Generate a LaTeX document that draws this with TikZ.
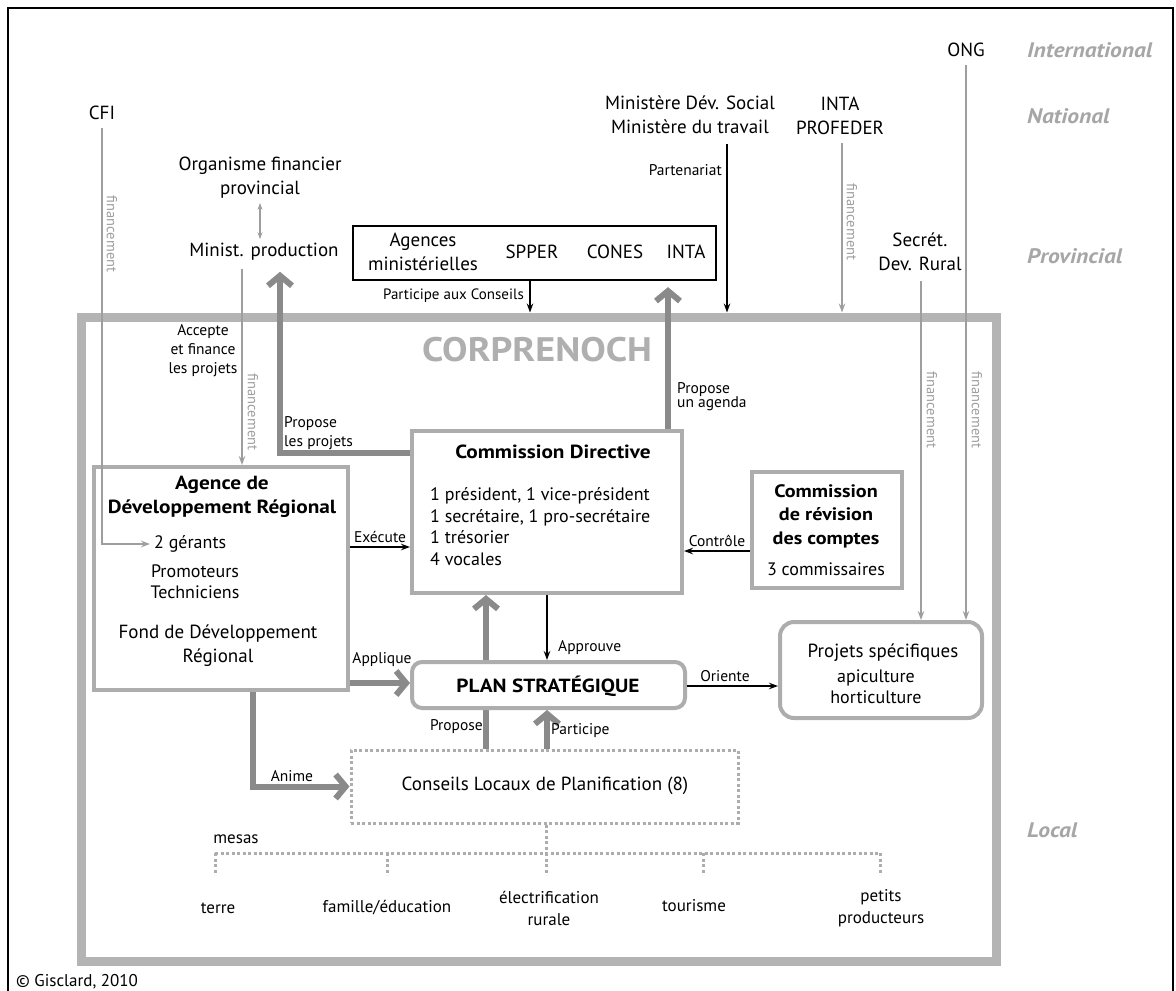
\documentclass[tikz,border=0pt]{standalone}
\usepackage{fontspec}
\setmainfont{PT Sans}[BoldFeatures={FakeStretch=1.12}, BoldItalicFeatures={FakeStretch=1.12}]
\usetikzlibrary{arrows.meta,calc}
\definecolor{frameg}{HTML}{B4B4B4}
\definecolor{boxg}{HTML}{ADADAD}
\definecolor{darkg}{HTML}{8A8A8A}
\definecolor{fing}{HTML}{9E9E9E}
\definecolor{levelg}{HTML}{A6A6A6}
\definecolor{corpg}{HTML}{AFAFAF}
\begin{document}
\begin{tikzpicture}[x=1pt,y=-1pt,
  every node/.style={inner sep=0pt, align=center},
  f19/.style={font=\fontsize{19}{24}\selectfont},
  f19b/.style={font=\fontsize{19}{24}\selectfont\bfseries},
  f18/.style={font=\fontsize{18}{21.5}\selectfont},
  f18b/.style={font=\fontsize{18}{23.5}\selectfont\bfseries},
  f17/.style={font=\fontsize{17}{22}\selectfont},
  f15/.style={font=\fontsize{15.5}{19}\selectfont},
  f14/.style={font=\fontsize{15}{16}\selectfont},
  fin/.style={font=\fontsize{14.5}{14}\selectfont, text=fing, rotate=-90},
  level/.style={font=\fontsize{21}{24}\selectfont\bfseries\itshape, text=levelg, anchor=west},
  gbox/.style={draw=boxg, line width=4pt, fill=white},
  blk/.style={draw=black, line width=1.4pt, -{Stealth[length=9pt,width=6.5pt]}},
  gar/.style={draw=fing, line width=1.4pt, -{Stealth[length=9pt,width=6.5pt]}},
  tarr/.style={draw=darkg, line width=6pt, -{Straight Barb[length=10pt,width=24pt]}},
  dotline/.style={draw=boxg, line width=3pt, dash pattern=on 3pt off 2.5pt},
]
\useasboundingbox (0,0) rectangle (1176,991);
% outer black frame
\draw[black, line width=1.5pt] (8,995) -- (8,8) -- (1173,8) -- (1173,995);

% column / row helper coordinates
\coordinate (xPart) at (530,0);
\coordinate (xPt) at (727,0);
\coordinate (xInta) at (842,0);
\coordinate (xOng) at (966,0);
\coordinate (xSec) at (921,0);
\coordinate (xMF) at (242,0);
\coordinate (xPP) at (280,0);
\coordinate (yPP) at (0,453);
\coordinate (xAg) at (668,0);
\coordinate (yEx) at (0,547);
\coordinate (yCt) at (0,551);
\coordinate (yAp) at (0,683);
\coordinate (yOr) at (0,686);
\coordinate (xApp) at (547,0);
\coordinate (xProp) at (486,0);
\coordinate (xPart2) at (547,0);
\coordinate (xAn) at (253,0);
\coordinate (xTree) at (546,0);

% CORPRENOCH frame
\node[draw=frameg, line width=9pt, minimum width=915pt, minimum height=644pt] (corp) at (538.5,639) {};
\node[font=\fontsize{34}{40}\selectfont\bfseries, text=corpg] (corptitle) at (537,350) {CORPRENOCH};

% level labels
\node[level] (lint) at (1027,50) {International};
\node[level] (lnat) at (1027,116) {National};
\node[level] (lprov) at (1027,256) {Provincial};
\node[level] (lloc) at (1027,830) {Local};

% top actors
\node[f19] (cfi) at (102,113) {CFI};
\node[f19] (org) at (260,178) {Organisme financier\\provincial};
\node[f19] (minprod) at (264,252) {Minist. production};
\node[f19] (mds) at (690,115) {Ministère Dév. Social\\Ministère du travail};
\node[f19] (inta) at (840,116) {INTA\\PROFEDER};
\node[f19] (ong) at (966,50) {ONG};
\node[f19] (secret) at (920,252) {Secrét.\\Dev. Rural};

% agences ministerielles
\node[draw=black, line width=2.2pt, minimum width=363pt, minimum height=54pt] (agences) at (534.5,253) {};
\node[f19] (agtxt) at (423,252) {Agences\\ministérielles};
\node[f19] (spper) at (532,252) {SPPER};
\node[f19] (cones) at (615,252) {CONES};
\node[f19] (intab) at (686,252) {INTA};

% main boxes
\node[gbox, minimum width=254pt, minimum height=223pt] (agence) at (221,578.5) {};
\node[f19b] (agtitle) at (222,497) {Agence de\\Développement Régional};
\node[f18, anchor=west] (gerants) at (154,544) {2 gérants};
\node[f18, align=center] (promo) at (195,581.5) {Promoteurs\\Techniciens};
\node[f19] (fond) at (218,646) {Fond de Développement\\Régional};

\node[gbox, minimum width=270pt, minimum height=162pt] (commission) at (547,512) {};
\node[f19b] (comtitle) at (553,452) {Commission Directive};
\node[f18, anchor=west, align=left] (combody) at (430,526.5) {1 président, 1 vice-président\\1 secrétaire, 1 pro-secrétaire\\1 trésorier\\4 vocales};

\node[gbox, minimum width=150pt, minimum height=116pt] (revision) at (827,530) {};
\node[f18b] (revtitle) at (826,516) {Commission\\de révision\\des comptes};
\node[f18] (revbody) at (826,569) {3 commissaires};

\node[gbox, rounded corners=14pt, minimum width=202pt, minimum height=96pt] (projets) at (881,670) {};
\node[f19] (projtitle) at (883,653) {Projets spécifiques};
\node[f18] (projbody) at (876,686.5) {apiculture\\horticulture};

\node[dotline, minimum width=387pt, minimum height=73pt] (conseils) at (544.5,786.5) {};
\node[f19] (constxt) at (545,786) {Conseils Locaux de Planification (8)};

% Propose (behind the plan)
\draw[tarr] (conseils.north -| xProp) -- (commission.south -| xProp);
\node[f15, anchor=east] (lpropose) at (483,727) {Propose};

\node[gbox, rounded corners=10pt, minimum width=273pt, minimum height=46pt] (plan) at (548.5,685) {};
\node[f19b] (plantxt) at (548,686) {PLAN STRATÉGIQUE};

% connectors from outside
\draw[draw=fing, line width=1.2pt, {Stealth[length=7pt,width=5pt]}-{Stealth[length=7pt,width=5pt]}] ($(org.south)+(0,4)$) -- ($(org.south |- minprod.north)+(0,-4)$);
\draw[gar] ($(cfi.south)+(0,8)$) |- ($(gerants.west)+(-4,0)$);
\node[fin] (lfin1) at (112,234) {financement};
\draw[gar] ($(minprod.south -| xMF)+(0,8)$) -- (agence.north -| xMF);
\node[fin] (lfin2) at (253,412) {financement};
\node[f15] (laccepte) at (203,351) {Accepte\\et finance\\les projets};

\draw[blk] (agences.south -| xPart) -- (corp.north -| xPart);
\node[f14, anchor=east] (lpart) at (524,296) {Participe aux Conseils};
\draw[blk] ($(mds.south -| xPt)+(0,10)$) -- (corp.north -| xPt);
\node[f15, anchor=east] (lpartenariat) at (722,170) {Partenariat};
\draw[gar] ($(inta.south -| xInta)+(0,8)$) -- (corp.north -| xInta);
\node[fin] (lfin3) at (852,222) {financement};
\draw[gar] ($(ong.south -| xOng)+(0,8)$) -- (projets.north -| xOng);
\node[fin] (lfin4) at (977,410) {financement};
\draw[gar] ($(secret.south -| xSec)+(0,10)$) -- (projets.north -| xSec);
\node[fin] (lfin5) at (932,410) {financement};

% internal connectors
\draw[tarr] (commission.west |- yPP) -| ($(xPP |- minprod.south)+(0,11)$);
\node[f15, anchor=west, align=left] (lpprojets) at (284,433) {Propose\\les projets};
\draw[tarr] (commission.north -| xAg) -- ($(agences.south -| xAg)+(0,6)$);
\node[anchor=west, align=left, font=\fontsize{15.5}{14}\selectfont] (lagenda) at (677,397) {Propose\\un agenda};

\draw[blk] (agence.east |- yEx) -- (commission.west |- yEx);
\node[f15] (lexec) at (380,537) {Exécute};
\draw[blk] (revision.west |- yCt) -- (commission.east |- yCt);
\node[f15] (lcontrole) at (717,541) {Contrôle};
\draw[blk] (commission.south -| xApp) -- (plan.north -| xApp);
\node[f15, anchor=west] (lapprouve) at (558,648) {Approuve};
\draw[tarr] (agence.east |- yAp) -- (plan.west |- yAp);
\node[f15] (lapplique) at (382,660) {Applique};
\draw[blk] (plan.east |- yOr) -- (projets.west |- yOr);
\node[f15] (loriente) at (725,676) {Oriente};
\draw[tarr] (conseils.north -| xPart2) -- (plan.south -| xPart2);
\node[f15, anchor=west] (lparticipe) at (551,731) {Participe};
\draw[tarr] (agence.south -| xAn) |- (conseils.west);
\node[f15] (lanime) at (292,776) {Anime};

% mesas tree
\coordinate (tb) at (546,853);
\coordinate (t1) at (215,853);
\coordinate (t2) at (387,853);
\coordinate (t4) at (703,853);
\coordinate (t5) at (880,853);
\draw[dotline] (conseils.south -| xTree) -- (tb);
\draw[dotline] (t1) -- (t5);
\foreach \p in {t1,t2,tb,t4,t5} \draw[dotline] (\p) -- ++(0,22);
\node[f17] (mesas) at (236,839) {mesas};
\node[f17] (terre) at (218,908) {terre};
\node[f17] (famille) at (387,908) {famille/éducation};
\node[f17] (electr) at (549,908) {électrification\\rurale};
\node[f17] (tourisme) at (694,906) {tourisme};
\node[f17] (petits) at (881,908) {petits\\producteurs};

\node[f17, anchor=west] (copy) at (16,982) {© Gisclard, 2010};
\end{tikzpicture}
\end{document}
